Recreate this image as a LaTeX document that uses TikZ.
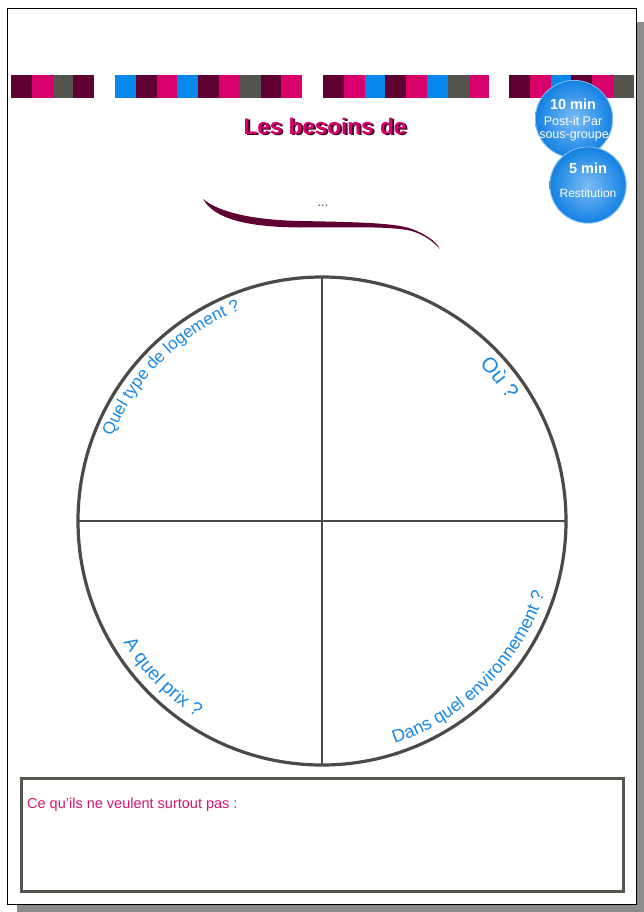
\documentclass[tikz,border=0pt]{standalone}
\usepackage{fontspec}
\setmainfont{Liberation Sans}
\usetikzlibrary{decorations.text}
\definecolor{dp}{HTML}{5F0033}
\definecolor{pk}{HTML}{D8006B}
\definecolor{gr}{HTML}{55554F}
\definecolor{bl}{HTML}{0887EA}
\definecolor{qblue}{HTML}{1A88E6}
\definecolor{shadowc}{HTML}{3A0020}
\definecolor{linegray}{HTML}{4A4A46}
\definecolor{boxpink}{HTML}{D4146E}
\definecolor{bubble}{HTML}{1286EC}
\newcommand\fsz[1]{\fontsize{#1}{#1}\selectfont}
\tikzset{
  bar/.style={fill=#1},
  arctext/.style={decorate, decoration={text along path, text align=center, text={#1}}},
  bubbletxt/.style={text=white, inner sep=0pt},
  bubbleshade/.style={inner color=bubble!55!white, outer color=bubble!96!black},
  gridline/.style={draw=linegray, line width=2pt}
}
\begin{document}
\begin{tikzpicture}[x=1pt,y=1pt]
\useasboundingbox (0,0) rectangle (644,-912);
% sheet with shadow
\fill[gray!90] (17,-22) rectangle (644,-912);
\fill[white, draw=black, line width=0.8pt] (7,-8) rectangle (636,-904);
% colour bars
\foreach \c [count=\i from 0] in {dp,pk,gr,dp}
  \fill[bar=\c] (11+\i*20.8,-75) rectangle ++(20.8,-23);
\foreach \c [count=\i from 0] in {bl,dp,pk,bl,dp,pk,gr,dp,pk}
  \fill[bar=\c] (115+\i*20.8,-75) rectangle ++(20.8,-23);
\foreach \c [count=\i from 0] in {dp,pk,bl,dp,pk,bl,gr,pk}
  \fill[bar=\c] (323+\i*20.8,-75) rectangle ++(20.8,-23);
\foreach \c [count=\i from 0] in {dp,pk,bl,dp,pk,gr}
  \fill[bar=\c] (509+\i*20.8,-75) rectangle ++(20.8,-23);
% title
\node[text=shadowc, font=\bfseries\fsz{22.5}] (titleshadow) at (327,-127.5) {Les besoins de};
\node[text=pk, font=\bfseries\fsz{22.5}] (title) at (325,-126) {Les besoins de};
% swoosh
\fill[dp] (203,-199) .. controls (220,-213) and (255,-220) .. (300,-221)
  .. controls (350,-222) and (395,-222.5) .. (412,-229)
  .. controls (425,-234) and (436,-241) .. (440,-249)
  .. controls (433,-241.5) and (425,-235) .. (411,-230.8)
  .. controls (390,-226) and (350,-227.5) .. (300,-227.5)
  .. controls (250,-227) and (215,-220) .. (203,-199) -- cycle;
\node[text=gr, font=\fsz{13}] (dots) at (323,-206) {...};
% bubbles
\shade[bubbleshade] (574,-119) circle[radius=39];
\draw[white, opacity=0.5, line width=0.8pt] (574,-119) circle[radius=38.6];
\shade[bubbleshade] (588,-185) circle[radius=38.5];
\draw[white, opacity=0.5, line width=0.8pt] (588,-185) circle[radius=38.1];
\node[bubbletxt, font=\bfseries\fsz{14.5}] (b1) at (573,-104) {10 min};
\node[bubbletxt, font=\fsz{12.5}] (b2) at (573,-121) {Post-it Par};
\node[bubbletxt, font=\fsz{12.5}] (b3) at (574,-136) {sous-groupe};
\node[bubbletxt, font=\bfseries\fsz{14.5}] (b4) at (588,-168) {5 min};
\node[bubbletxt, font=\fsz{12}] (b5) at (588,-193) {Restitution};
% big circle
\coordinate (C) at (322,-521);
\coordinate (T) at (322,-277);
\coordinate (B) at (322,-765);
\coordinate (L) at (78,-521);
\coordinate (R) at (566,-521);
\draw[gridline] (T) -- (B);
\draw[gridline] (L) -- (R);
\draw[draw=linegray, line width=3.2pt] (C) circle[radius=244];
% arc texts
\path[arctext={|\fsz{17}\color{qblue}|Quel type de logement ?}]
  ([shift={(174.6:226)}]C) arc[start angle=174.6, end angle=94.6, radius=226];
\path[arctext={|\fsz{21}\color{qblue}|Où ?}]
  ([shift={(79:222)}]C) arc[start angle=79, end angle=-1, radius=222];
\path[arctext={|\fsz{19}\color{qblue}|A quel prix ?}]
  ([shift={(184.5:233)}]C) arc[start angle=184.5, end angle=264.5, radius=233];
\path[arctext={|\fsz{18}\color{qblue}|Dans quel environnement ?}]
  ([shift={(270:234)}]C) arc[start angle=270, end angle=360, radius=234];
% bottom box
\draw[draw=gr, line width=3pt] (21,-778) rectangle (623,-891);
\node[anchor=base west, text=boxpink, font=\fsz{14.5}, inner sep=0pt] (boxtext) at (27,-808) {Ce qu’ils ne veulent surtout pas :};
\end{tikzpicture}
\end{document}
